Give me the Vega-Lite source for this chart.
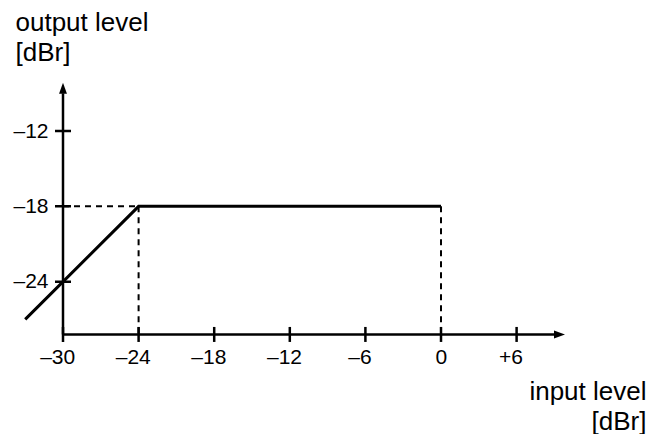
{
  "$schema": "https://vega.github.io/schema/vega-lite/v6.json",
  "description": "Output level versus input level: level rises 1:1 up to -24 dBr, then holds at -18 dBr.",
  "width": 664,
  "height": 434,
  "autosize": {"type": "none"},
  "padding": 0,
  "background": "white",
  "config": {
    "view": {"stroke": null},
    "axis": {
      "labelFont": "Liberation Sans",
      "labelFontSize": 21,
      "labelColor": "black",
      "titleFont": "Liberation Sans",
      "titleFontSize": 26,
      "titleFontWeight": "normal",
      "titleColor": "black",
      "titleLineHeight": 30,
      "titleAngle": 0,
      "titleBaseline": "alphabetic",
      "domain": false,
      "ticks": false,
      "tickSize": 0,
      "grid": false
    }
  },
  "datasets": {
    "curve": [
      {"x": -33, "y": -27},
      {"x": -24, "y": -18},
      {"x": 0, "y": -18}
    ],
    "guides": [
      {"x": -30, "y": -18, "x2": -24, "y2": -18},
      {"x": -24, "y": -18, "x2": -24, "y2": -28.2},
      {"x": 0, "y": -18, "x2": 0, "y2": -28.2}
    ],
    "axisLines": [
      {"x": -30, "y": -28.2, "x2": 9.0, "y2": -28.2},
      {"x": -30, "y": -28.2, "x2": -30, "y2": -9.0}
    ],
    "xTicks": [
      {"x": -30, "y": -28.2},
      {"x": -24, "y": -28.2},
      {"x": -18, "y": -28.2},
      {"x": -12, "y": -28.2},
      {"x": -6, "y": -28.2},
      {"x": 0, "y": -28.2},
      {"x": 6, "y": -28.2}
    ],
    "yTicks": [
      {"x": -30, "y": -24},
      {"x": -30, "y": -18},
      {"x": -30, "y": -12}
    ],
    "arrows": [
      {"x": 9.841, "y": -28.2, "dir": "right"},
      {"x": -30, "y": -8.154, "dir": "up"}
    ]
  },
  "encoding": {
    "x": {
      "field": "x",
      "type": "quantitative",
      "scale": {"domain": [-35, 17.698], "nice": false, "zero": false},
      "axis": {
        "orient": "bottom",
        "offset": -99.5,
        "values": [-30, -24, -18, -12, -6, 0, 6],
        "labelExpr": "datum.value < 0 ? '–' + abs(datum.value) : datum.value > 0 ? '+' + datum.value : '0'",
        "labelAlign": "right",
        "labelOffset": {"condition": {"test": "abs(datum.value) >= 10", "value": 11.7}, "value": 5.8},
        "labelBaseline": "top",
        "labelPadding": 12,
        "title": ["input level", "[dBr]"],
        "titleAlign": "right",
        "titleX": 646,
        "titleY": 64.5
      }
    },
    "y": {
      "field": "y",
      "type": "quantitative",
      "scale": {"domain": [-36.128, -1.568], "nice": false, "zero": false},
      "axis": {
        "orient": "left",
        "offset": -63,
        "values": [-24, -18, -12],
        "labelExpr": "'–' + abs(datum.value)",
        "labelAlign": "right",
        "labelBaseline": "middle",
        "labelPadding": 15,
        "title": ["output level", "[dBr]"],
        "titleAlign": "left",
        "titleX": -48,
        "titleY": 30
      }
    }
  },
  "layer": [
    {
      "data": {"name": "axisLines"},
      "mark": {"type": "rule", "color": "black", "strokeWidth": 2.5},
      "encoding": {"x2": {"field": "x2"}, "y2": {"field": "y2"}}
    },
    {
      "data": {"name": "xTicks"},
      "mark": {"type": "tick", "orient": "vertical", "color": "black", "size": 15, "thickness": 2.5, "opacity": 1}
    },
    {
      "data": {"name": "yTicks"},
      "mark": {"type": "tick", "orient": "horizontal", "color": "black", "size": 16, "thickness": 2.5, "opacity": 1}
    },
    {
      "data": {"name": "guides"},
      "mark": {"type": "rule", "color": "black", "strokeWidth": 2, "strokeDash": [6, 5]},
      "encoding": {"x2": {"field": "x2"}, "y2": {"field": "y2"}}
    },
    {
      "data": {"name": "curve"},
      "mark": {"type": "line", "color": "black", "strokeWidth": 3}
    },
    {
      "data": {"name": "arrows"},
      "mark": {"type": "point", "filled": true, "color": "black", "opacity": 1, "size": 484, "strokeWidth": 0},
      "encoding": {
        "shape": {
          "field": "dir",
          "type": "nominal",
          "scale": {"domain": ["right", "up"], "range": ["M0,0L-1,-0.36L-1,0.36Z", "M0,0L-0.36,1L0.36,1Z"]},
          "legend": null
        }
      }
    }
  ]
}
